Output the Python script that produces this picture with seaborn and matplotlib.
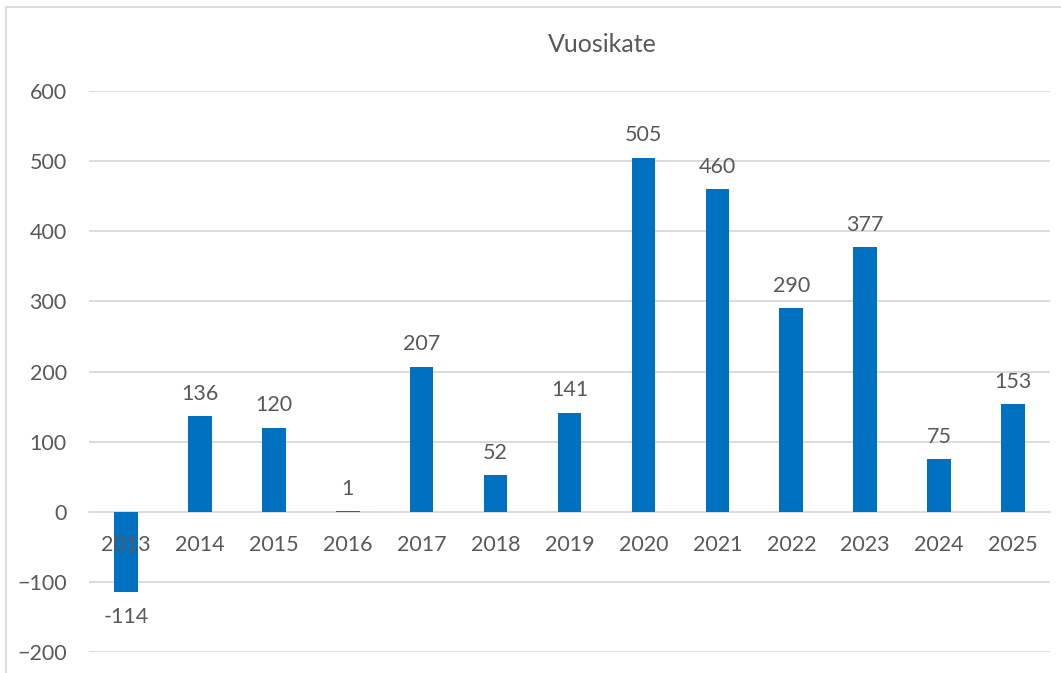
import matplotlib
matplotlib.use("Agg")
import matplotlib.pyplot as plt
import seaborn as sns
import pandas as pd
from matplotlib.patches import Rectangle

years = ["2013", "2014", "2015", "2016", "2017", "2018", "2019",
         "2020", "2021", "2022", "2023", "2024", "2025"]
values = [-114, 136, 120, 1, 207, 52, 141, 505, 460, 290, 377, 75, 153]
title = "Vuosikate"

df = pd.DataFrame({"year": years, "value": values})

sns.set_theme(style="white")
plt.rcParams["font.family"] = ["Lato", "DejaVu Sans"]

TXT = "#595959"
GRID = "#D9D9D9"
BAR = "#0070C0"
FS = 15.5

fig = plt.figure(figsize=(10.61, 6.73), dpi=100)
ax = fig.add_axes([89 / 1061, 1 - 652 / 673, (1050 - 89) / 1061, (652 - 91) / 673])

sns.barplot(data=df, x="year", y="value", color=BAR, width=0.32,
            saturation=1, ax=ax, zorder=1, linewidth=0)

yticks = list(range(-200, 601, 100))
ax.set_ylim(-200, 600)
ax.set_xlim(-0.5, len(years) - 0.5)
ax.set_yticks(yticks)
ax.grid(False)
for t in yticks:
    if t != 0:
        ax.axhline(t, color=GRID, linewidth=1.3, zorder=0.2)
ax.set_axisbelow(False)
for s in ["top", "right", "left"]:
    ax.spines[s].set_visible(False)
ax.spines["bottom"].set_position(("data", 0))
ax.spines["bottom"].set_color(GRID)
ax.spines["bottom"].set_linewidth(1.3)
ax.spines["bottom"].set_zorder(0.2)
ax.tick_params(axis="x", length=0, pad=17, labelsize=FS, labelcolor=TXT)
ax.tick_params(axis="y", length=0, pad=16, labelsize=FS, labelcolor=TXT)
ax.set_xlabel("")
ax.set_ylabel("")

for i, v in enumerate(values):
    if v >= 0:
        ax.annotate(f"{v}", (i, v), xytext=(0, 9), textcoords="offset points",
                    ha="center", va="bottom", fontsize=FS, color=TXT)
    else:
        ax.annotate(f"{v}", (i, v), xytext=(0, -11), textcoords="offset points",
                    ha="center", va="top", fontsize=FS, color=TXT)

fig.text(602 / 1061, 1 - 45 / 673, title, ha="center", va="center",
         fontsize=18, color=TXT)

fig.patches.append(Rectangle((6 / 1061, -0.1), 1.2, 1.1 - 7 / 673,
                             transform=fig.transFigure, fill=False,
                             edgecolor=GRID, linewidth=1.3))

fig.savefig("out.png", dpi=100, facecolor="white")
